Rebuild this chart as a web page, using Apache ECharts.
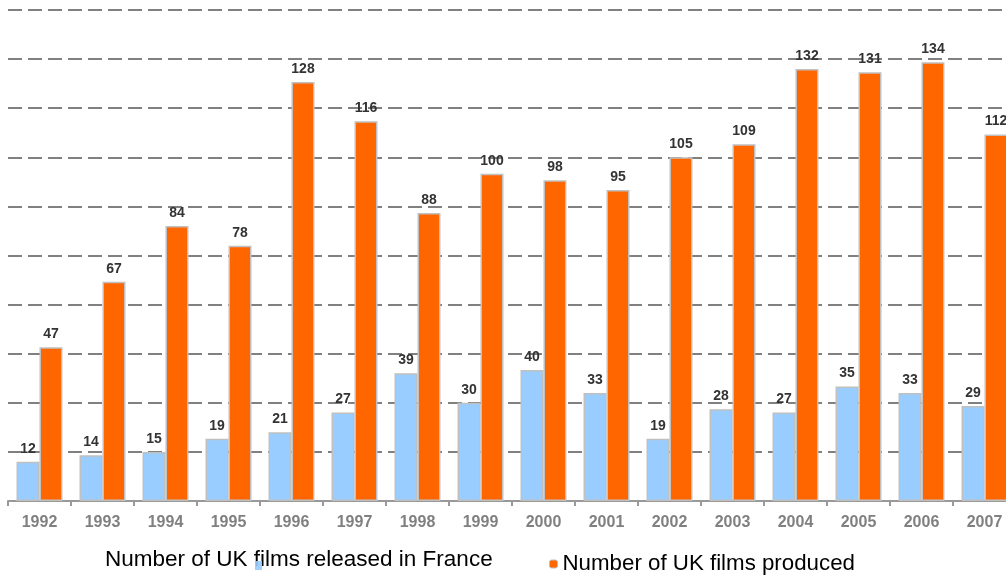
<!DOCTYPE html>
<html>
<head>
<meta charset="utf-8">
<script src="https://cdn.jsdelivr.net/npm/echarts@6/dist/echarts.min.js"></script>
<style>
html,body{margin:0;padding:0;background:#fff;overflow:hidden;width:1006px;height:575px;}
#chart{width:1016px;height:575px;}
</style>
</head>
<body>
<div id="chart"></div>
<script>
const years = ['1992','1993','1994','1995','1996','1997','1998','1999','2000','2001','2002','2003','2004','2005','2006','2007'];
const releasedInFrance = [12,14,15,19,21,27,39,30,40,33,19,28,27,35,33,29];
const produced = [47,67,84,78,128,116,88,100,98,95,105,109,132,131,134,112];
const seriesNames = ['Number of UK films released in France','Number of UK films produced'];

const chart = echarts.init(document.getElementById('chart'), null, {renderer:'canvas'});
const labelStyle = {show:true, position:'top', distance:6, color:'#333333', fontWeight:'bold', fontSize:14, fontFamily:'Liberation Sans, Arial, sans-serif'};
chart.setOption({
  animation:false,
  backgroundColor:'#ffffff',
  grid:{left:8, right:0, top:10, bottom:74, containLabel:false},
  legend:[
    {data:[seriesNames[0]], left:87, top:543, itemWidth:7, itemHeight:9, selectedMode:false,
     itemStyle:{opacity:0},
     textStyle:{color:'#000', fontSize:22.5, fontFamily:'Liberation Sans, Arial, sans-serif'}},
    {data:[seriesNames[1]], left:544, top:548, itemWidth:8, itemHeight:8, selectedMode:false,
     itemStyle:{borderColor:'#c0c0c0', borderWidth:1},
     textStyle:{color:'#000', fontSize:22.3, fontFamily:'Liberation Sans, Arial, sans-serif'}}
  ],
  graphic:[{type:'rect', z:100, zlevel:0, left:255, top:561, shape:{width:7, height:9}, style:{fill:'#99ccff', opacity:0.9}}],
  xAxis:{
    type:'category', data:years,
    axisLine:{lineStyle:{color:'#999999', width:2}},
    axisTick:{show:true, length:5, lineStyle:{color:'#999999', width:2}},
    axisLabel:{color:'#808080', fontWeight:'bold', fontSize:16, margin:14, fontFamily:'Liberation Sans, Arial, sans-serif'}
  },
  yAxis:{
    type:'value', min:0, max:150, interval:15,
    axisLabel:{show:false}, axisLine:{show:false}, axisTick:{show:false},
    splitLine:{lineStyle:{color:'#808080', width:2, type:[14,6]}}
  },
  series:[
    {name:seriesNames[0], type:'bar', data:releasedInFrance, barGap:'0%', barCategoryGap:'27%',
     itemStyle:{color:'#99ccff', borderColor:'#c0c0c0', borderWidth:1.5}, label:labelStyle},
    {name:seriesNames[1], type:'bar', data:produced, barGap:'0%', barCategoryGap:'27%',
     itemStyle:{color:'#ff6600', borderColor:'#c0c0c0', borderWidth:1.5}, label:labelStyle}
  ]
});
</script>
</body>
</html>
